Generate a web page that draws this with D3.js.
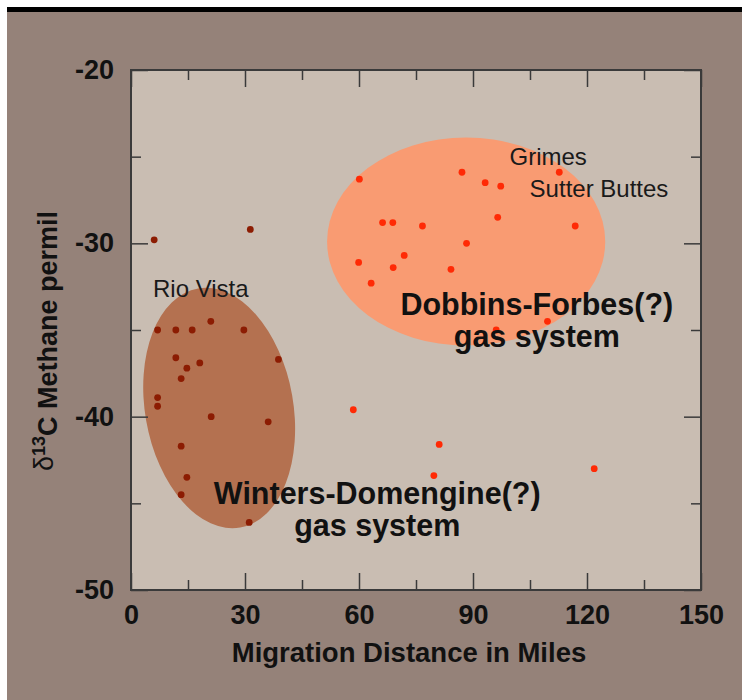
<!DOCTYPE html>
<html>
<head>
<meta charset="utf-8">
<script src="https://cdn.jsdelivr.net/npm/d3@7"></script>
<style>
  body { margin: 0; background: #fff; }
  svg { display: block; }
  text { font-family: "Liberation Sans", Arial, Helvetica, sans-serif; }
</style>
</head>
<body>
<svg id="chart" width="742" height="700"></svg>
<script>
// values: [migration distance (miles), d13C methane (permil)]
const wintersPts = [
  [7.0, -35.0], [11.8, -35.0], [16.1, -35.0], [21.0, -34.5], [29.7, -35.0],
  [11.8, -36.6], [18.1, -36.9], [14.7, -37.2], [13.2, -37.8], [38.8, -36.7],
  [7.0, -38.9], [7.0, -39.4], [21.1, -40.0], [36.1, -40.3], [13.2, -41.7],
  [14.7, -43.5], [13.2, -44.5], [31.1, -46.1],
  [6.1, -29.8], [31.4, -29.2]
];
const dobbinsPts = [
  [60.1, -26.3], [87.1, -25.9], [93.2, -26.5], [97.3, -26.7], [112.7, -25.9],
  [66.2, -28.8], [68.9, -28.8], [76.7, -29.0], [96.5, -28.5], [116.9, -29.0],
  [88.3, -30.0], [71.9, -30.7], [59.9, -31.1], [69.0, -31.4], [84.2, -31.5],
  [63.2, -32.3], [109.6, -34.5], [96.1, -35.0],
  [58.5, -39.6], [81.1, -41.6], [79.7, -43.4], [121.9, -43.0]
];
// gas system envelopes: center x, center y, half-width (miles), half-height (permil)
const systems = [
  { name: "Dobbins-Forbes", cx: 88.2, cy: -29.9, rx: 36.6, ry: 6.0 },
  { name: "Winters-Domengine", cx: 23.2, cy: -39.5, rx: 19.5, ry: 7.0 }
];
const xMajor = [0, 30, 60, 90, 120, 150];
const xMinor = [15, 45, 75, 105, 135];
const yMajor = [-20, -30, -40, -50];
const yMinor = [-25, -35, -45];
const siteLabels = [
  { text: "Rio Vista", x: 5.8, y: -33.1 },
  { text: "Grimes", x: 99.6, y: -25.5 },
  { text: "Sutter Buttes", x: 104.9, y: -27.3 }
];
const systemLabels = [
  { lines: ["Dobbins-Forbes(?)", "gas system"], x: 106.8, y: -34.15 },
  { lines: ["Winters-Domengine(?)", "gas system"], x: 64.8, y: -45.05 }
];

const svg = d3.select("#chart");
const mLeft = 131, mRight = 701, mTop = 70, mBottom = 590;

// page frame
svg.append("rect").attr("x", 0).attr("y", 0).attr("width", 742).attr("height", 700).attr("fill", "#fff");
svg.append("rect").attr("x", 7).attr("y", 7).attr("width", 735).attr("height", 693).attr("fill", "#958279");
svg.append("rect").attr("x", 7).attr("y", 7).attr("width", 735).attr("height", 5).attr("fill", "#000");

const x = d3.scaleLinear().domain([0, 150]).range([mLeft, mRight]);
const y = d3.scaleLinear().domain([-20, -50]).range([mTop, mBottom]);

svg.append("rect")
  .attr("x", mLeft).attr("y", mTop)
  .attr("width", mRight - mLeft).attr("height", mBottom - mTop)
  .attr("fill", "#c9bdb2");

// envelopes
const sysColor = { "Dobbins-Forbes": "#f99b72", "Winters-Domengine": "#b47150" };
const sysRot = { "Dobbins-Forbes": 0, "Winters-Domengine": -10 };
svg.selectAll(".env")
  .data(systems)
  .enter().append("ellipse")
  .attr("class", "env")
  .attr("transform", d => `translate(${x(d.cx)},${y(d.cy)}) rotate(${sysRot[d.name]})`)
  .attr("rx", d => x(d.rx) - x(0))
  .attr("ry", d => y(-20 - d.ry) - y(-20))
  .attr("fill", d => sysColor[d.name]);

// points
svg.selectAll(".wpt")
  .data(wintersPts)
  .enter().append("circle")
  .attr("cx", d => x(d[0])).attr("cy", d => y(d[1]))
  .attr("r", 3.4).attr("fill", "#8c1c02");
svg.selectAll(".dpt")
  .data(dobbinsPts)
  .enter().append("circle")
  .attr("cx", d => x(d[0])).attr("cy", d => y(d[1]))
  .attr("r", 3.4).attr("fill", "#ff2a05");

// axes, ticks inside on all four sides
const plainNum = d => String(d); // keep the ascii hyphen like the original
function styleAxis(g) {
  g.select(".domain").remove();
  g.selectAll(".tick line").attr("stroke", "#3a3a3a").attr("stroke-width", 1.5);
  g.selectAll("text").attr("fill", "#111").style("font-size", "27px").style("font-weight", "bold");
}
svg.append("g").attr("transform", `translate(0,${mBottom})`)
  .call(d3.axisBottom(x).tickValues(xMajor).tickSize(-17).tickPadding(15).tickFormat(plainNum))
  .call(styleAxis);
svg.append("g").attr("transform", `translate(0,${mBottom})`)
  .call(d3.axisBottom(x).tickValues(xMinor).tickSize(-10).tickFormat(""))
  .call(styleAxis);
svg.append("g").attr("transform", `translate(0,${mTop})`)
  .call(d3.axisTop(x).tickValues(xMajor).tickSize(-17).tickFormat(""))
  .call(styleAxis);
svg.append("g").attr("transform", `translate(0,${mTop})`)
  .call(d3.axisTop(x).tickValues(xMinor).tickSize(-10).tickFormat(""))
  .call(styleAxis);
svg.append("g").attr("transform", `translate(${mLeft},0)`)
  .call(d3.axisLeft(y).tickValues(yMajor).tickSize(-17).tickPadding(17).tickFormat(plainNum))
  .call(styleAxis);
svg.append("g").attr("transform", `translate(${mLeft},0)`)
  .call(d3.axisLeft(y).tickValues(yMinor).tickSize(-10).tickFormat(""))
  .call(styleAxis);
svg.append("g").attr("transform", `translate(${mRight},0)`)
  .call(d3.axisRight(y).tickValues(yMajor).tickSize(-17).tickFormat(""))
  .call(styleAxis);
svg.append("g").attr("transform", `translate(${mRight},0)`)
  .call(d3.axisRight(y).tickValues(yMinor).tickSize(-10).tickFormat(""))
  .call(styleAxis);

svg.append("rect")
  .attr("x", mLeft).attr("y", mTop)
  .attr("width", mRight - mLeft).attr("height", mBottom - mTop)
  .attr("fill", "none").attr("stroke", "#3a3a3a").attr("stroke-width", 2);

// axis titles
svg.append("text")
  .attr("x", 409).attr("y", 662)
  .attr("text-anchor", "middle")
  .style("font-size", "27.5px").style("font-weight", "bold").attr("fill", "#111")
  .text("Migration Distance in Miles");

const yt = svg.append("text")
  .attr("transform", "translate(53,341) rotate(-90)")
  .attr("text-anchor", "middle")
  .style("font-size", "27px").style("font-weight", "bold").attr("fill", "#111");
yt.append("tspan").style("font-weight", "normal").text("δ");
yt.append("tspan").attr("dy", "-0.45em").style("font-size", "18px").text("13");
yt.append("tspan").attr("dy", "0.45em").text("C Methane permil");

// site labels
svg.selectAll(".site")
  .data(siteLabels)
  .enter().append("text")
  .attr("x", d => x(d.x)).attr("y", d => y(d.y))
  .style("font-size", "24px").attr("fill", "#1a1a1a")
  .text(d => d.text);

// system labels, one text per line
systemLabels.forEach(lab => {
  lab.lines.forEach((ln, i) => {
    svg.append("text")
      .attr("x", x(lab.x)).attr("y", y(lab.y) + i * 32)
      .attr("text-anchor", "middle")
      .style("font-size", "30.5px").style("font-weight", "bold").attr("fill", "#111")
      .text(ln);
  });
});
</script>
</body>
</html>
